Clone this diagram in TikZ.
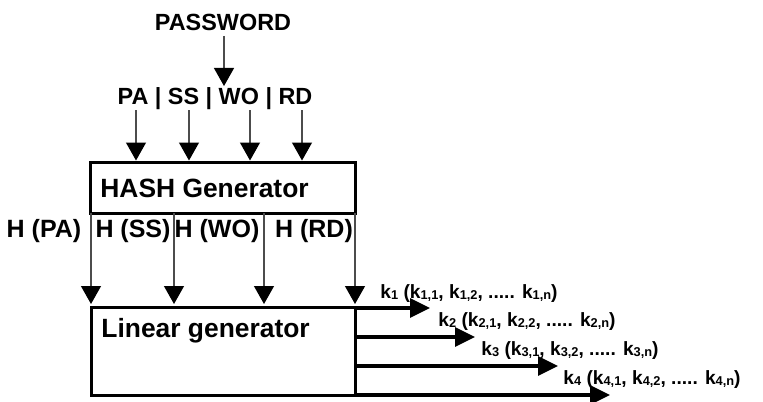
\documentclass[tikz,border=0pt]{standalone}
\usepackage{fontspec}
\setmainfont{Liberation Sans}
\usetikzlibrary{arrows.meta}
\usetikzlibrary{positioning}

% key with its index, small digits near the base line
\newcommand{\kk}[1]{k\raisebox{-0.8pt}{\fontsize{6.4}{7}\selectfont #1}}

\tikzset{
  inarrow/.style={draw=black!70, line width=0.6pt, -{Triangle[width=10pt,length=9pt,black]}},
  outarrow/.style={line width=1.6pt, -{Triangle[width=9.5pt,length=10pt]}},
  block/.style={draw, line width=1.5pt, inner sep=0pt},
  boxtext/.style={font=\bfseries\fontsize{13.2}{15}\selectfont, inner sep=0pt},
  lbl/.style={font=\bfseries\fontsize{11.7}{14}\selectfont, inner sep=0pt},
  hlbl/.style={font=\bfseries\fontsize{12.5}{14}\selectfont, inner sep=0pt},
  klbl/.style={font=\bfseries\fontsize{9.6}{11}\selectfont, inner sep=0pt, anchor=base west}
}

\begin{document}
\begin{tikzpicture}[x=0.5pt, y=-0.5pt]
  \useasboundingbox (0,0) rectangle (763,401);

  \node[lbl] (pw) at (223,22) {PASSWORD};
  \node[lbl] (parts) at (215,99) {PA | SS | WO | RD};
  \coordinate (pwtop) at (224,36);
  \coordinate (pwtip) at (224,86);
  \draw[inarrow] (pwtop) -- (pwtip);

  % the two blocks
  \node[block, minimum width=132.5pt, minimum height=25.5pt] (hash) at (222.5,187.5) {};
  \node[boxtext, anchor=west] (hashlbl) at (100,188) {HASH Generator};
  \node[block, minimum width=132pt, minimum height=44pt] (lin) at (223,351) {};
  \node[boxtext, anchor=west] (linlbl) at (101,331) {Linear generator};

  % parts into the hash generator
  \foreach \x/\n in {136/pa, 189/ss, 250/wo, 302/rd} {
    \coordinate (in\n) at (\x,110);
    \draw[inarrow] (in\n) -- (in\n |- hash.north);
  }

  % hashes into the linear generator
  \foreach \x/\n in {91/pa, 174/ss, 264/wo, 355/rd} {
    \coordinate (h\n) at (\x,213);
    \coordinate (t\n) at (\x,304);
    \draw[inarrow] (h\n) -- (t\n);
  }
  \node[hlbl] (hpa) at (44,231) {H (PA)};
  \node[hlbl] (hss) at (133,231) {H (SS)};
  \node[hlbl] (hwo) at (217,231) {H (WO)};
  \node[hlbl] (hrd) at (314,231) {H (RD)};

  % keys out
  \foreach \y/\e/\n in {308/430/1, 337/475/2, 366/558/3, 395/610/4} {
    \coordinate (out\n) at (\e,\y);
    \draw[outarrow] (lin.east |- out\n) -- (out\n);
  }
  \node[klbl] (k1) at (380,298) {\kk{1} (\kk{1,1}, \kk{1,2}, ..... \kk{1,n})};
  \node[klbl] (k2) at (438,326) {\kk{2} (\kk{2,1}, \kk{2,2}, ..... \kk{2,n})};
  \node[klbl] (k3) at (481,355) {\kk{3} (\kk{3,1}, \kk{3,2}, ..... \kk{3,n})};
  \node[klbl] (k4) at (563,384) {\kk{4} (\kk{4,1}, \kk{4,2}, ..... \kk{4,n})};
\end{tikzpicture}
\end{document}
